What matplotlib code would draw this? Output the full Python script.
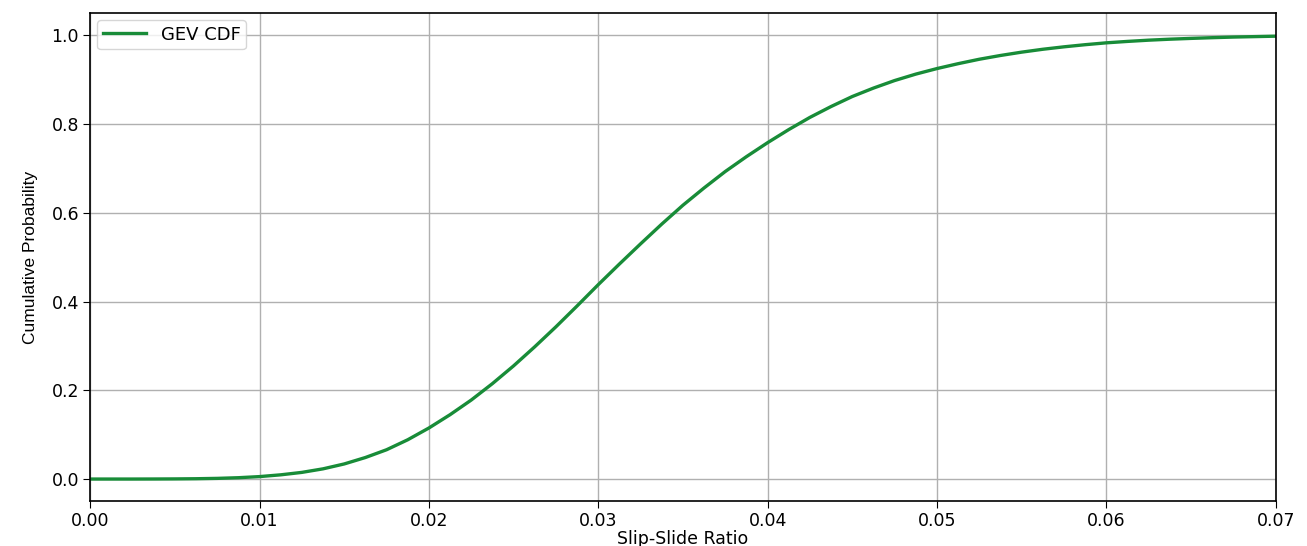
import matplotlib
matplotlib.use("Agg")
import matplotlib.pyplot as plt

# slip-slide ratio vs cumulative probability
ratio = [0.00000, 0.00125, 0.00250, 0.00375, 0.00500, 0.00625, 0.00750, 0.00875,
         0.01000, 0.01125, 0.01250, 0.01375, 0.01500, 0.01625, 0.01750, 0.01875,
         0.02000, 0.02125, 0.02250, 0.02375, 0.02500, 0.02625, 0.02750, 0.02875,
         0.03000, 0.03125, 0.03250, 0.03375, 0.03500, 0.03625, 0.03750, 0.03875,
         0.04000, 0.04125, 0.04250, 0.04375, 0.04500, 0.04625, 0.04750, 0.04875,
         0.05000, 0.05125, 0.05250, 0.05375, 0.05500, 0.05625, 0.05750, 0.05875,
         0.06000, 0.06125, 0.06250, 0.06375, 0.06500, 0.06625, 0.06750, 0.06875,
         0.07000]
cdf = [0.0000, 0.0000, 0.0000, 0.0001, 0.0003, 0.0007, 0.0015, 0.0030,
       0.0055, 0.0095, 0.0150, 0.0230, 0.0340, 0.0485, 0.0660, 0.0885,
       0.1150, 0.1450, 0.1780, 0.2150, 0.2550, 0.2980, 0.3430, 0.3900,
       0.4380, 0.4845, 0.5300, 0.5745, 0.6170, 0.6560, 0.6930, 0.7265,
       0.7580, 0.7875, 0.8150, 0.8395, 0.8620, 0.8810, 0.8980, 0.9125,
       0.9250, 0.9360, 0.9460, 0.9545, 0.9620, 0.9685, 0.9740, 0.9788,
       0.9830, 0.9862, 0.9890, 0.9912, 0.9930, 0.9946, 0.9960, 0.9970,
       0.9980]

xticks = [0.00, 0.01, 0.02, 0.03, 0.04, 0.05, 0.06, 0.07]

fig = plt.figure(figsize=(13.07, 5.46), dpi=100)
ax = fig.add_axes([0.069, 0.082, 0.907, 0.894])

ax.plot(ratio, cdf, color='#188c38', lw=2.4, label='GEV CDF')

ax.set_xlim(0, 0.07)
ax.set_ylim(-0.05, 1.05)
ax.set_xticks(xticks)
ax.set_xticklabels([f'{t:.2f}' for t in xticks])
ax.tick_params(labelsize=12.5, length=5, pad=3)
ax.grid(True, color='#b0b0b0', lw=1.0)
for s in ax.spines.values():
    s.set_linewidth(1.2)

ax.set_xlabel('Slip-Slide Ratio', fontsize=12.5, labelpad=0)
ax.set_ylabel('Cumulative Probability', fontsize=12.5,
              family=['Liberation Sans', 'DejaVu Sans'], labelpad=10)
ax.legend(loc='upper left', fontsize=13, handlelength=2.4,
          borderpad=0.3, borderaxespad=0.4)

fig.savefig('out.png', dpi=100)
